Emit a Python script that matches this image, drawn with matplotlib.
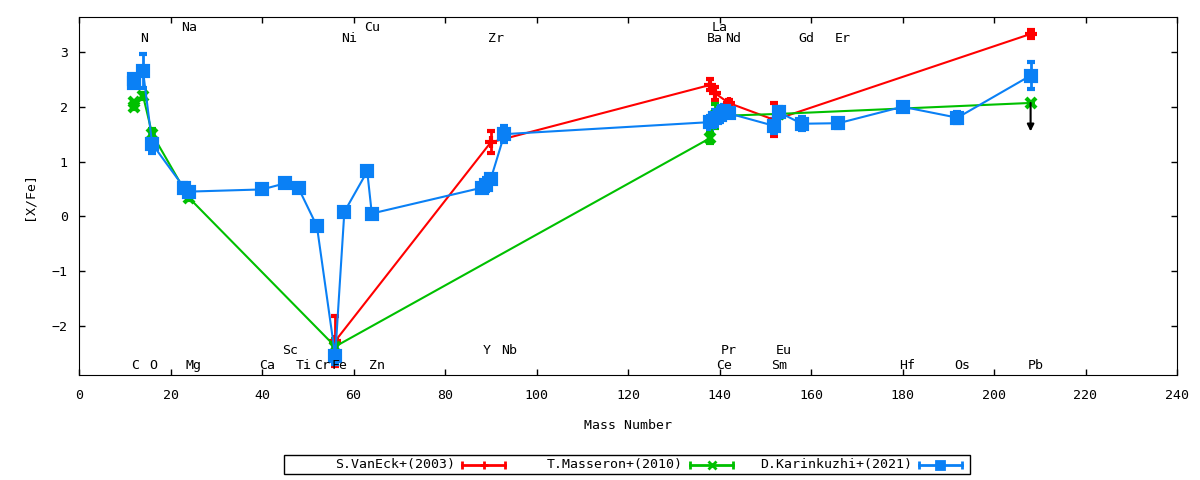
import matplotlib
matplotlib.use('Agg')
import matplotlib.pyplot as plt
from matplotlib.lines import Line2D
from matplotlib.patches import Rectangle

plt.rcParams['font.family'] = 'DejaVu Sans Mono'
plt.rcParams['font.size'] = 9.5

# S.VanEck+(2003)
vaneck_mass = [56, 90, 138, 139, 142, 152, 208]
vaneck_val = [-2.28, 1.35, 2.40, 2.25, 2.07, 1.76, 3.33]
vaneck_err = [0.45, 0.20, 0.10, 0.12, 0.05, 0.30, 0.08]

# T.Masseron+(2010)
masseron_mass = [12, 12, 14, 16, 24, 56, 138, 139, 153, 208]
masseron_val = [2.08, 1.99, 2.20, 1.50, 0.34, -2.38, 1.43, 1.83, 1.87, 2.07]
masseron_err = [0.03, 0.03, 0.06, 0.10, 0.05, 0.13, 0.10, 0.22, 0.05, 0.0]
# upper limit (Pb)
limit_mass = [208]
limit_from = [2.07]
limit_to = [1.55]

# D.Karinkuzhi+(2021)
karin_mass = [12, 12, 14, 16, 23, 24, 40, 45, 48, 52, 56, 58, 63, 64,
              88, 89, 90, 93, 138, 139, 140, 141, 142, 152, 153, 158,
              166, 180, 192, 208]
karin_val = [2.44, 2.51, 2.65, 1.32, 0.52, 0.45, 0.49, 0.60, 0.51, -0.18,
             -2.55, 0.08, 0.82, 0.05, 0.52, 0.58, 0.68, 1.50, 1.72, 1.80,
             1.85, 1.93, 1.88, 1.65, 1.90, 1.69, 1.70, 2.00, 1.80, 2.57]
karin_err = [0.03, 0.03, 0.31, 0.17, 0.08, 0.06, 0.04, 0.04, 0.04, 0.05,
             0.15, 0.05, 0.05, 0.04, 0.05, 0.12, 0.06, 0.15, 0.12, 0.15,
             0.12, 0.10, 0.07, 0.12, 0.10, 0.12, 0.08, 0.06, 0.10, 0.24]

# element labels (symbol, mass) by row
top_row1 = [('N', 14), ('Ni', 58), ('Zr', 90), ('Ba', 138), ('Nd', 142),
            ('Gd', 158), ('Er', 166)]
top_row2 = [('Na', 23), ('Cu', 63), ('La', 139)]
bot_row1 = [('C', 12), ('O', 16), ('Mg', 24), ('Ca', 40), ('Ti', 48),
            ('Cr', 52), ('Fe', 56), ('Zn', 64), ('Ce', 140), ('Sm', 152),
            ('Hf', 180), ('Os', 192), ('Pb', 208)]
bot_row2 = [('Sc', 45), ('Y', 89), ('Nb', 93), ('Pr', 141), ('Eu', 153)]

W, H = 1200, 480
fig = plt.figure(figsize=(W / 100, H / 100), dpi=100)
ax = fig.add_axes([79 / W, 1 - 375 / H, (1177 - 79) / W, (375 - 17) / H])

series = [
    (vaneck_mass, vaneck_val, vaneck_err, '#ff0000', '+', 8, 'S.VanEck+(2003)'),
    (masseron_mass, masseron_val, masseron_err, '#00c000', 'x', 7, 'T.Masseron+(2010)'),
    (karin_mass, karin_val, karin_err, '#0a80f5', 's', 7.5, 'D.Karinkuzhi+(2021)'),
]

for m, v, e, c, mk, ms, lab in series:
    ax.errorbar(m, v, yerr=e, color=c, marker=mk, ms=ms, mew=3, lw=1.5,
                elinewidth=2, capsize=3, capthick=2)

for xm, y0, y1 in zip(limit_mass, limit_from, limit_to):
    ax.annotate('', xy=(xm, y1), xytext=(xm, y0),
                arrowprops=dict(arrowstyle='-|>', color='black', lw=1.5,
                                mutation_scale=10, shrinkA=0, shrinkB=0))

for row, yy in [(top_row1, 3.25), (top_row2, 3.44), (bot_row1, -2.72), (bot_row2, -2.46)]:
    for sym, m in row:
        ax.text(m - 0.7, yy, sym, ha='left', va='center')

ax.set_xlim(0, 240)
ax.set_ylim(-2.9, 3.64)
ax.set_xticks(range(0, 241, 20))
ax.set_yticks(range(-2, 4))
ax.tick_params(direction='in', top=True, right=True, length=4, width=1)
ax.tick_params(axis='x', pad=10)
ax.tick_params(axis='y', pad=8)
ax.set_xlabel('Mass Number', labelpad=12)
ax.set_ylabel('[X/Fe]', labelpad=12)

# legend box, gnuplot style
def px(x, y):
    return x / W, 1 - y / H

fig.patches.append(Rectangle(px(284, 474), 686 / W, 19 / H, fill=False,
                             edgecolor='black', lw=1, transform=fig.transFigure))
text_right = [455, 683, 912]
yc = 464.5
for (m, v, e, c, mk, ms, lab), xr in zip(series, text_right):
    fig.text(*px(xr, yc), lab, ha='right', va='center')
    xs, xe = xr + 7, xr + 50
    (x0, y0), (x1, _) = px(xs, yc), px(xe, yc)
    fig.lines.append(Line2D([x0, x1], [y0, y0], color=c, lw=2, transform=fig.transFigure))
    fig.lines.append(Line2D([x0, x1], [y0, y0], ls='none', marker='|', ms=6, mew=2,
                            color=c, transform=fig.transFigure))
    fig.lines.append(Line2D([(x0 + x1) / 2], [y0], ls='none', marker=mk, ms=ms * 0.8,
                            mew=2, color=c, transform=fig.transFigure))

fig.savefig('out.png', dpi=100)
